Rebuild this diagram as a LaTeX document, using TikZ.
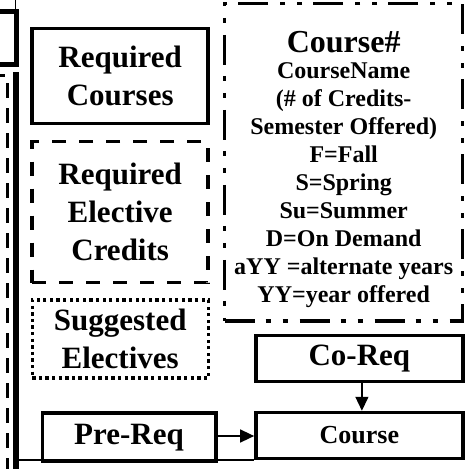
\documentclass[tikz,border=0pt]{standalone}
\usepackage{fontspec}
\setmainfont{Liberation Serif}
\usetikzlibrary{arrows.meta}
\begin{document}
\begin{tikzpicture}[x=1pt,y=-1pt,
  box/.style={draw, line width=3.5pt, rectangle, inner sep=0pt, align=center, font=\bfseries\fontsize{31}{38}\selectfont},
  dashbox/.style={box, dash pattern=on 14pt off 13pt},
  dotbox/.style={box, line width=3.3pt, dash pattern=on 3.3pt off 3.3pt},
  legendbox/.style={box, dash pattern=on 30pt off 11pt on 5pt off 12pt on 5pt off 12pt},
  arr/.style={line width=1.5pt, -{Triangle[length=14pt,width=13pt]}},
  thinline/.style={line width=1.3pt},
  thickline/.style={line width=6pt},
  partdash/.style={line width=3.5pt, dash pattern=on 15pt off 10pt},
  legendtxt/.style={font=\bfseries\fontsize{24}{28}\selectfont, align=center, inner sep=0pt},
]
\useasboundingbox (0,0) rectangle (465,469);
\clip (0,0) rectangle (465,469);
% partial shapes at the left edge
\coordinate (t1) at (15.5,0);
\coordinate (t2) at (15.5,9);
\draw[thinline] (t1) -- (t2);
\draw[line width=5pt] (-10,11) rectangle (16.5,64.5);
\draw[partdash] (-10,75.5) -- (7.5,75.5) -- (7.5,480);
\draw[thickline] (15.5,72) -- (15.5,480);
% boxes
\node[box, minimum width=176pt, minimum height=95pt] (req) at (120.2,75.8) {Required\\Courses};
\node[dashbox, minimum width=176pt, minimum height=141pt] (elec) at (120.2,212) {Required\\Elective\\Credits};
\node[dotbox, minimum width=176pt, minimum height=78pt] (sugg) at (120.2,339) {Suggested\\Electives};
\node[box, minimum width=173.5pt, minimum height=48.7pt] (prereq) at (129,437.3) {Pre-Req};
\node[legendbox, minimum width=238pt, minimum height=317.5pt] (legend) at (343.7,162) {};
\node[legendtxt, anchor=north] (legendtext) at (343.7,31.5) {{\fontsize{32}{28}\selectfont Course\#}\\[-2pt]CourseName\\(\# of Credits-\\Semester Offered)\\F=Fall\\S=Spring\\Su=Summer\\D=On Demand\\aYY =alternate years\\YY=year offered};
\node[box, minimum width=207pt, minimum height=46pt] (coreq) at (359.4,358.7) {Co-Req};
\node[box, minimum width=207pt, minimum height=45.8pt, font=\bfseries\fontsize{26}{30}\selectfont] (course) at (359.4,435.4) {Course};
% connectors
\draw[arr] ([xshift=2.5pt]coreq.south) -- ([xshift=2.5pt]course.north);
\coordinate (pa) at (prereq.east |- 0,436);
\draw[arr] (pa) -- (pa -| course.west);
\coordinate (bl) at (18,460);
\draw[thinline] (bl) -- (bl -| course.west);
\end{tikzpicture}
\end{document}
